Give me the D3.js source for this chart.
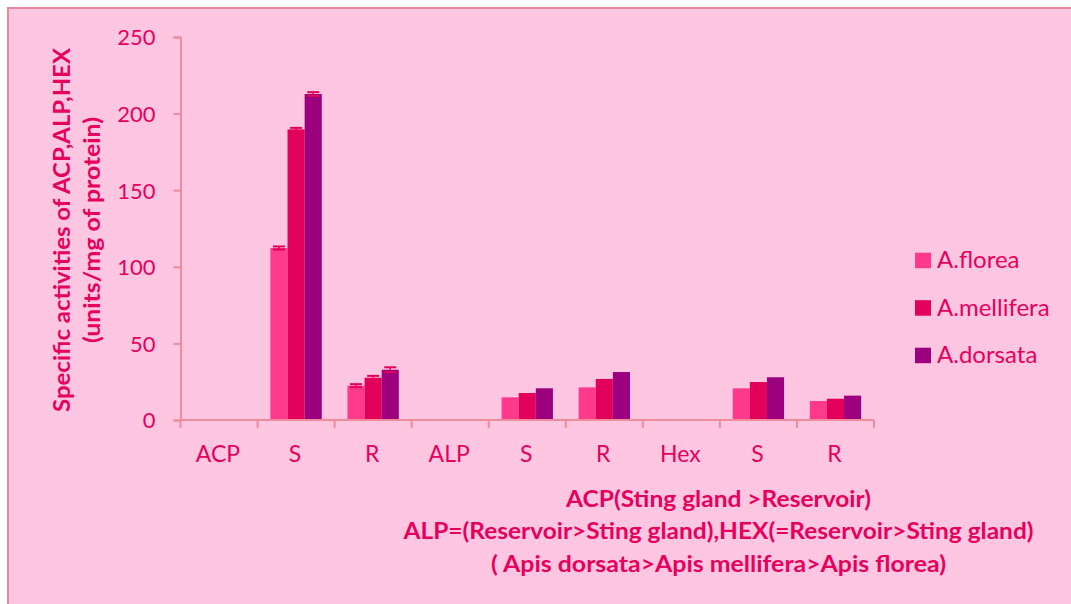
<!DOCTYPE html>
<html>
<head>
<meta charset="utf-8">
<script src="https://cdn.jsdelivr.net/npm/d3@7"></script>
<style>
  html, body { margin: 0; padding: 0; background: #ffffff; }
  svg { display: block; }
  text { font-family: Lato, "Noto Sans", sans-serif; }
</style>
</head>
<body>
<svg id="chart" width="1071" height="604"></svg>
<script>
// ---- data ----
const categories = ["ACP", "S", "R", "ALP", "S", "R", "Hex", "S", "R"];
const seriesNames = ["A.florea", "A.mellifera", "A.dorsata"];
const floreaValues    = [0, 112.3, 22.4, 0, 14.8, 21.3, 0, 20.7, 12.4];
const melliferaValues = [0, 189.7, 27.6, 0, 17.6, 26.8, 0, 24.8, 13.9];
const dorsataValues   = [0, 212.8, 32.8, 0, 20.7, 31.3, 0, 27.9, 15.9];
const floreaErrors    = [0, 1.0, 1.0, 0, 0, 0, 0, 0, 0];
const melliferaErrors = [0, 1.0, 1.2, 0, 0, 0, 0, 0, 0];
const dorsataErrors   = [0, 1.2, 1.6, 0, 0, 0, 0, 0, 0];
const yTicks = [0, 50, 100, 150, 200, 250];
const yTitleLines = ["Specific activities of ACP,ALP,HEX", "(units/mg of protein)"];
const xTitleLines = ["ACP(Sting gland >Reservoir)",
                     "ALP=(Reservoir>Sting gland),HEX(=Reservoir>Sting gland)",
                     "( Apis dorsata>Apis mellifera>Apis florea)"];

const seriesValues = [floreaValues, melliferaValues, dorsataValues];
const seriesErrors = [floreaErrors, melliferaErrors, dorsataErrors];
const colors = ["#FF3A8C", "#E3005A", "#9C007E"];
const textColor = "#E6005C";
const axisColor = "#EE8C9C";

const svg = d3.select("#chart");

// background & border
svg.append("rect").attr("x", 8).attr("y", 8).attr("width", 1100).attr("height", 640)
  .attr("fill", "#FFC6E2").attr("stroke", "#E8889A").attr("stroke-width", 2);

const plot = { left: 180.5, right: 874, top: 37, bottom: 420 };

const x = d3.scaleBand().domain(d3.range(categories.length))
  .range([plot.left, plot.right]).paddingInner(0).paddingOuter(0);
const xSub = d3.scaleBand().domain(d3.range(seriesNames.length))
  .range([0, x.bandwidth()]).paddingInner(0).paddingOuter(0.75);
const y = d3.scaleLinear().domain([0, 250]).range([plot.bottom, plot.top]);

// bars
const rows = categories.map((c, i) => ({ i, c }));
const groups = svg.append("g").selectAll("g").data(rows).join("g")
  .attr("transform", d => `translate(${x(d.i)},0)`);

groups.selectAll("rect").data(d => seriesValues.map((vals, s) => ({ s, v: vals[d.i], e: seriesErrors[s][d.i] })))
  .join("rect")
  .attr("x", d => xSub(d.s))
  .attr("width", xSub.bandwidth())
  .attr("y", d => y(d.v))
  .attr("height", d => y(0) - y(d.v))
  .attr("fill", d => colors[d.s]);

// error bars
groups.each(function(d) {
  const g = d3.select(this);
  seriesValues.forEach((vals, s) => {
    const v = vals[d.i], e = seriesErrors[s][d.i];
    if (!e) return;
    const cx = xSub(s) + xSub.bandwidth() / 2;
    const cw = 6;
    const ec = "#E3005A";
    g.append("line").attr("x1", cx).attr("x2", cx).attr("y1", y(v + e)).attr("y2", y(v - e))
      .attr("stroke", ec).attr("stroke-width", 1.5);
    [v + e, v - e].forEach(t => {
      g.append("line").attr("x1", cx - cw).attr("x2", cx + cw).attr("y1", y(t)).attr("y2", y(t))
        .attr("stroke", ec).attr("stroke-width", 2);
    });
  });
});

// y axis
const yAxis = d3.axisLeft(y).tickValues(yTicks).tickSize(7).tickPadding(18);
const gy = svg.append("g").attr("transform", `translate(${plot.left},0)`).call(yAxis);
gy.select(".domain").attr("stroke", axisColor).attr("stroke-width", 2);
gy.selectAll(".tick line").attr("stroke", axisColor).attr("stroke-width", 2);
gy.selectAll(".tick text").attr("fill", textColor).attr("font-size", 22)
  .attr("font-family", "Lato, sans-serif").attr("dy", "0.36em");

// x axis (ticks at category boundaries)
svg.append("line").attr("x1", plot.left).attr("x2", plot.right).attr("y1", y(0)).attr("y2", y(0))
  .attr("stroke", axisColor).attr("stroke-width", 2);
const bounds = d3.range(categories.length + 1).map(i => i < categories.length ? x(i) : plot.right);
svg.append("g").selectAll("line").data(bounds).join("line")
  .attr("x1", d => d).attr("x2", d => d).attr("y1", y(0)).attr("y2", y(0) + 8)
  .attr("stroke", axisColor).attr("stroke-width", 2);
svg.append("g").selectAll("text").data(rows).join("text")
  .attr("x", d => x(d.i) + x.bandwidth() / 2 - 1).attr("y", 462)
  .attr("text-anchor", "middle").attr("fill", textColor).attr("font-size", 23)
  .text(d => d.c);

// y title
const yTitleLengths = [364, 226];
[70, 100].forEach((bx, k) => {
  svg.append("text").attr("transform", `translate(${bx},230) rotate(-90)`)
    .attr("fill", textColor).attr("font-size", 23).attr("font-weight", "bold").attr("text-anchor", "middle")
    .attr("textLength", yTitleLengths[k]).attr("lengthAdjust", "spacingAndGlyphs")
    .text(yTitleLines[k]);
});

// x title
const xTitleLengths = [305, 630, 455];
[506.7, 539, 571.7].forEach((by, k) => {
  svg.append("text").attr("x", 718.5).attr("y", by)
    .attr("fill", textColor).attr("font-size", 23).attr("font-weight", "bold").attr("text-anchor", "middle")
    .attr("textLength", xTitleLengths[k]).attr("lengthAdjust", "spacingAndGlyphs")
    .text(xTitleLines[k]);
});

// legend
const legend = svg.append("g").selectAll("g").data(seriesNames).join("g")
  .attr("transform", (d, i) => `translate(915,${252.7 + i * 47.5})`);
legend.append("rect").attr("width", 16).attr("height", 15.5).attr("fill", (d, i) => colors[i]);
legend.append("text").attr("x", 22).attr("y", 15.6).attr("fill", textColor).attr("font-size", 24).text(d => d);
</script>
</body>
</html>
